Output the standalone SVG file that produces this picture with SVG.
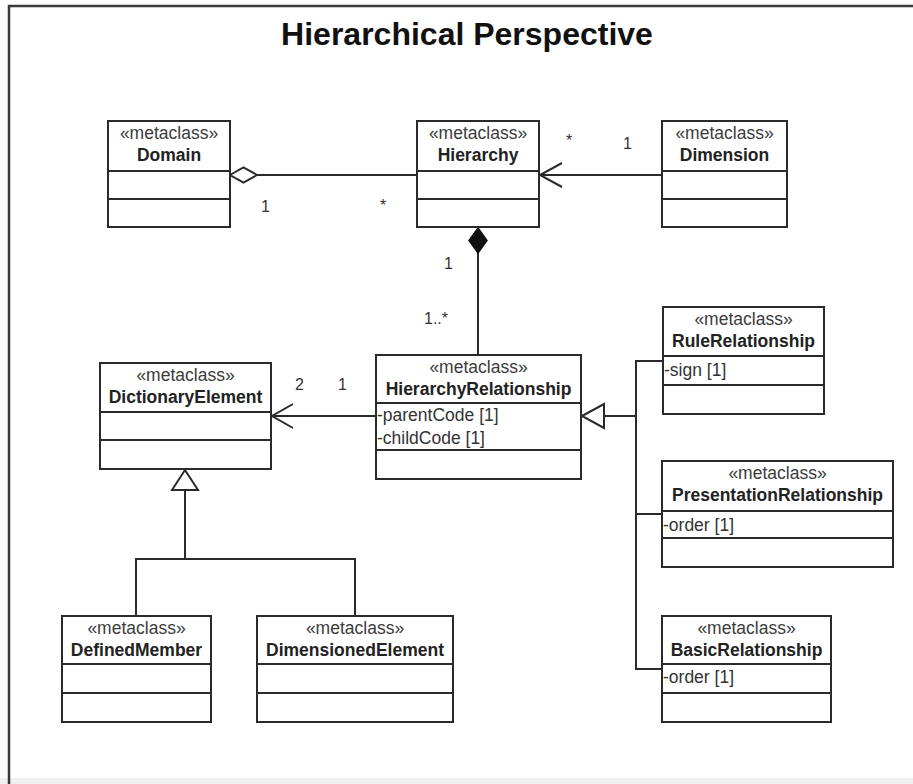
<svg xmlns="http://www.w3.org/2000/svg" width="913" height="784" viewBox="0 0 913 784">
<style>
.box{fill:#fff;stroke:#2a2a2a;stroke-width:2}
.sep{stroke:#2a2a2a;stroke-width:2}
.ln{stroke:#2a2a2a;stroke-width:2;fill:none}
.st{font-family:"Liberation Sans",Arial,sans-serif;font-size:17.5px;fill:#3c3c3c;text-anchor:middle}
.nm{font-family:"Liberation Sans",Arial,sans-serif;font-size:17.5px;font-weight:bold;fill:#222;text-anchor:middle}
.at{font-family:"Liberation Sans",Arial,sans-serif;font-size:17.5px;fill:#333}
.mul{font-family:"Liberation Sans",Arial,sans-serif;font-size:16px;fill:#333}
.title{font-family:"Liberation Sans",Arial,sans-serif;font-size:32px;font-weight:bold;fill:#111;text-anchor:middle}
</style>
<rect x="0" y="0" width="913" height="784" fill="#fff"/>
<rect x="0" y="778" width="913" height="6" fill="#f0f0f0"/>
<path d="M9,784 V6 H913" fill="none" stroke="#3a3a3a" stroke-width="2.5"/>
<text class="title" x="467" y="45">Hierarchical Perspective</text>

<g id="connectors">
  <path class="ln" d="M257,175 H417"/>
  <path d="M230,175 L243.5,167.5 L257,175 L243.5,182.5 Z" fill="#fff" stroke="#2a2a2a" stroke-width="2"/>
  <path class="ln" d="M662,175 H539"/>
  <path class="ln" d="M562,163 L540,175 L562,187"/>
  <path class="ln" d="M478,253 V355"/>
  <path d="M478,228 L487,240.5 L478,253 L469,240.5 Z" fill="#111" stroke="#111" stroke-width="1.5"/>
  <path class="ln" d="M376,416 H272"/>
  <path class="ln" d="M293,404 L272,416 L293,428"/>
  <path class="ln" d="M663,361 H636 V669 H662 M636,514 H662 M636,416 H604"/>
  <path d="M582,416 L604,404 L604,428 Z" fill="#fff" stroke="#2a2a2a" stroke-width="2"/>
  <path class="ln" d="M185,490 V559 M136,616 V559 H355 V616"/>
  <path d="M185,470 L198,490 L172,490 Z" fill="#fff" stroke="#2a2a2a" stroke-width="2"/>
  <text class="mul" x="261" y="212">1</text>
  <text class="mul" x="380" y="211">*</text>
  <text class="mul" x="566" y="146">*</text>
  <text class="mul" x="623" y="149">1</text>
  <text class="mul" x="444" y="269">1</text>
  <text class="mul" x="424" y="324">1..*</text>
  <text class="mul" x="295" y="390">2</text>
  <text class="mul" x="338" y="390">1</text>
</g>

<g id="Domain">
  <rect class="box" x="108" y="121" width="122" height="106"/>
  <line class="sep" x1="108" y1="171" x2="230" y2="171"/>
  <line class="sep" x1="108" y1="199" x2="230" y2="199"/>
  <text class="st" x="169" y="139">«metaclass»</text>
  <text class="nm" x="169" y="161">Domain</text>
</g>

<g id="Hierarchy">
  <rect class="box" x="417" y="121" width="122" height="106"/>
  <line class="sep" x1="417" y1="171" x2="539" y2="171"/>
  <line class="sep" x1="417" y1="199" x2="539" y2="199"/>
  <text class="st" x="478" y="139">«metaclass»</text>
  <text class="nm" x="478" y="161">Hierarchy</text>
</g>

<g id="Dimension">
  <rect class="box" x="662" y="121" width="125" height="106"/>
  <line class="sep" x1="662" y1="171" x2="787" y2="171"/>
  <line class="sep" x1="662" y1="199" x2="787" y2="199"/>
  <text class="st" x="724.5" y="139">«metaclass»</text>
  <text class="nm" x="724.5" y="161">Dimension</text>
</g>

<g id="HierarchyRelationship">
  <rect class="box" x="376" y="355" width="205" height="124"/>
  <line class="sep" x1="376" y1="403" x2="581" y2="403"/>
  <line class="sep" x1="376" y1="450" x2="581" y2="450"/>
  <text class="st" x="478.5" y="373">«metaclass»</text>
  <text class="nm" x="478.5" y="395">HierarchyRelationship</text>
  <text class="at" x="377" y="421">-parentCode [1]</text>
  <text class="at" x="377" y="444">-childCode [1]</text>
</g>

<g id="DictionaryElement">
  <rect class="box" x="100" y="363" width="171" height="106"/>
  <line class="sep" x1="100" y1="412" x2="271" y2="412"/>
  <line class="sep" x1="100" y1="440" x2="271" y2="440"/>
  <text class="st" x="185.5" y="381">«metaclass»</text>
  <text class="nm" x="185.5" y="403">DictionaryElement</text>
</g>

<g id="RuleRelationship">
  <rect class="box" x="663" y="307" width="161" height="107"/>
  <line class="sep" x1="663" y1="356" x2="824" y2="356"/>
  <line class="sep" x1="663" y1="385" x2="824" y2="385"/>
  <text class="st" x="743.5" y="325">«metaclass»</text>
  <text class="nm" x="743.5" y="347">RuleRelationship</text>
  <text class="at" x="664" y="376">-sign [1]</text>
</g>

<g id="PresentationRelationship">
  <rect class="box" x="662" y="461" width="231" height="106"/>
  <line class="sep" x1="662" y1="511" x2="893" y2="511"/>
  <line class="sep" x1="662" y1="538" x2="893" y2="538"/>
  <text class="st" x="777.5" y="479">«metaclass»</text>
  <text class="nm" x="777.5" y="501">PresentationRelationship</text>
  <text class="at" x="663" y="531">-order [1]</text>
</g>

<g id="BasicRelationship">
  <rect class="box" x="662" y="616" width="169" height="106"/>
  <line class="sep" x1="662" y1="664" x2="831" y2="664"/>
  <line class="sep" x1="662" y1="693" x2="831" y2="693"/>
  <text class="st" x="746.5" y="634">«metaclass»</text>
  <text class="nm" x="746.5" y="656">BasicRelationship</text>
  <text class="at" x="663" y="683">-order [1]</text>
</g>

<g id="DefinedMember">
  <rect class="box" x="62" y="616" width="149" height="106"/>
  <line class="sep" x1="62" y1="664" x2="211" y2="664"/>
  <line class="sep" x1="62" y1="693" x2="211" y2="693"/>
  <text class="st" x="136.5" y="634">«metaclass»</text>
  <text class="nm" x="136.5" y="656">DefinedMember</text>
</g>

<g id="DimensionedElement">
  <rect class="box" x="257" y="616" width="196" height="106"/>
  <line class="sep" x1="257" y1="664" x2="453" y2="664"/>
  <line class="sep" x1="257" y1="693" x2="453" y2="693"/>
  <text class="st" x="355" y="634">«metaclass»</text>
  <text class="nm" x="355" y="656">DimensionedElement</text>
</g>
</svg>
